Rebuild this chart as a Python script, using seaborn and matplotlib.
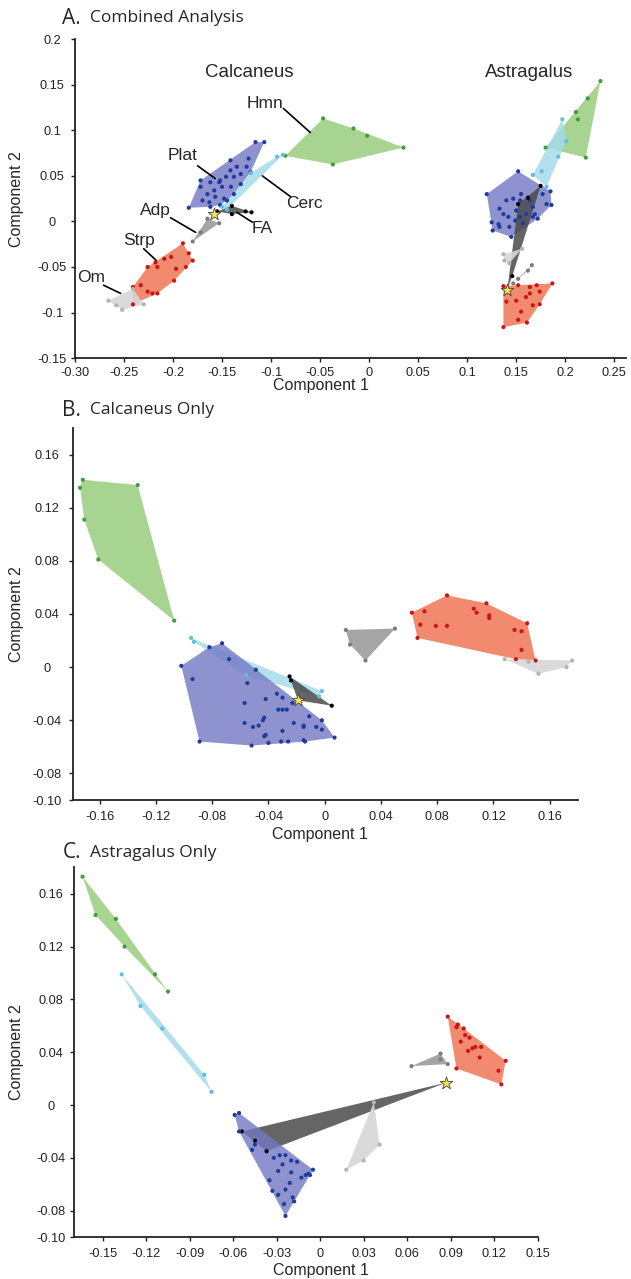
import numpy as np
import pandas as pd
import matplotlib
matplotlib.use("Agg")
import matplotlib.pyplot as plt
import seaborn as sns

# ========== DATA ==========
# Panel A - Combined analysis, calcaneus cluster
a_calc_hmn = [(-0.0855, 0.072), (-0.047, 0.113), (-0.016, 0.102), (-0.002, 0.094), (0.035, 0.081), (-0.037, 0.0625)]
a_calc_plat = [(-0.184, 0.015), (-0.116, 0.087), (-0.107, 0.087), (-0.123, 0.069), (-0.1415, 0.067), (-0.1415, 0.056),
               (-0.152, 0.045), (-0.162, 0.043), (-0.172, 0.038), (-0.165, 0.030), (-0.158, 0.034), (-0.150, 0.038),
               (-0.138, 0.049), (-0.131, 0.052), (-0.121, 0.054), (-0.170, 0.023), (-0.163, 0.021), (-0.157, 0.027),
               (-0.148, 0.025), (-0.138, 0.030), (-0.141, 0.038), (-0.162, 0.016), (-0.152, 0.018), (-0.145, 0.023),
               (-0.131, 0.041), (-0.153, 0.043), (-0.146, 0.049), (-0.135, 0.060), (-0.125, 0.060), (-0.172, 0.045)]
a_calc_cerc = [(-0.094, 0.071), (-0.088, 0.073), (-0.121, 0.053), (-0.150, 0.016), (-0.145, 0.013)]
a_calc_fa = [(-0.155, 0.011), (-0.140, 0.017), (-0.126, 0.011), (-0.120, 0.010), (-0.140, 0.008)]
a_calc_adp = [(-0.165, 0.003), (-0.153, -0.002), (-0.180, -0.022), (-0.172, -0.012)]
a_calc_strp = [(-0.190, -0.024), (-0.184, -0.035), (-0.180, -0.043), (-0.187, -0.050), (-0.197, -0.052),
               (-0.202, -0.039), (-0.209, -0.041), (-0.218, -0.045), (-0.226, -0.050), (-0.216, -0.050),
               (-0.199, -0.065), (-0.216, -0.079), (-0.221, -0.079), (-0.226, -0.077), (-0.233, -0.070),
               (-0.241, -0.091), (-0.241, -0.072)]
a_calc_om = [(-0.266, -0.087), (-0.241, -0.074), (-0.230, -0.091), (-0.252, -0.097), (-0.258, -0.092)]
a_calc_star = (-0.158, 0.008)

# Panel A - Combined analysis, astragalus cluster
a_ast_hmn = [(0.236, 0.154), (0.223, 0.135), (0.211, 0.120), (0.213, 0.112), (0.180, 0.081), (0.221, 0.070)]
a_ast_cerc = [(0.197, 0.112), (0.201, 0.088), (0.193, 0.071), (0.167, 0.051), (0.181, 0.038), (0.176, 0.055)]
a_ast_plat = [(0.120, 0.030), (0.152, 0.055), (0.185, 0.033), (0.186, 0.018), (0.172, 0.003), (0.145, -0.017),
              (0.126, -0.010), (0.125, -0.001), (0.133, 0.014), (0.137, 0.008), (0.142, 0.005), (0.150, 0.012),
              (0.154, 0.023), (0.155, 0.030), (0.164, 0.023), (0.167, 0.016), (0.160, 0.008), (0.149, 0.001),
              (0.154, 0.005), (0.133, -0.006), (0.132, -0.003), (0.140, 0.023), (0.147, 0.025), (0.169, 0.008),
              (0.177, 0.030), (0.181, 0.019), (0.157, -0.002), (0.143, -0.006), (0.167, 0.005)]
a_ast_fa = [(0.175, 0.039), (0.162, 0.026), (0.152, 0.019), (0.141, -0.075), (0.146, -0.060)]
a_ast_om = [(0.137, -0.036), (0.156, -0.030), (0.143, -0.046), (0.138, -0.043)]
a_ast_adp = [(0.166, -0.048), (0.152, -0.063), (0.147, -0.068), (0.162, -0.054)]
a_ast_strp = [(0.137, -0.071), (0.187, -0.068), (0.161, -0.111), (0.137, -0.116), (0.152, -0.070), (0.164, -0.072),
              (0.171, -0.070), (0.174, -0.077), (0.150, -0.087), (0.140, -0.088), (0.160, -0.083), (0.167, -0.092),
              (0.174, -0.091), (0.152, -0.108), (0.155, -0.099), (0.164, -0.079)]
a_ast_star = (0.141, -0.075)

# Panel B - Calcaneus only
b_hmn = [(-0.172, 0.141), (-0.174, 0.135), (-0.171, 0.111), (-0.161, 0.081), (-0.133, 0.137), (-0.107, 0.035)]
b_cerc = [(-0.095, 0.022), (-0.093, 0.019), (-0.056, -0.006), (-0.002, -0.018), (-0.004, -0.022)]
b_plat = [(-0.102, 0.001), (-0.073, 0.018), (-0.082, 0.015), (-0.068, 0.006), (-0.049, -0.002), (-0.094, -0.009),
          (-0.089, -0.056), (-0.052, -0.059), (-0.055, -0.012), (-0.057, -0.027), (-0.057, -0.042), (-0.051, -0.045),
          (-0.047, -0.044), (-0.044, -0.040), (-0.043, -0.038), (-0.042, -0.024), (-0.034, -0.020), (-0.030, -0.023),
          (-0.033, -0.032), (-0.030, -0.032), (-0.027, -0.032), (-0.030, -0.048), (-0.042, -0.051), (-0.043, -0.052),
          (-0.040, -0.057), (-0.031, -0.056), (-0.026, -0.056), (-0.022, -0.042), (-0.015, -0.044), (-0.014, -0.056),
          (-0.011, -0.037), (-0.006, -0.045), (-0.023, -0.027), (-0.015, -0.045), (-0.002, -0.047), (-0.015, -0.055),
          (0.007, -0.053), (-0.002, -0.040)]
b_fa = [(-0.025, -0.007), (-0.024, -0.010), (0.005, -0.029), (-0.019, -0.025)]
b_adp = [(0.015, 0.028), (0.050, 0.029), (0.029, 0.005), (0.018, 0.017)]
b_strp = [(0.062, 0.041), (0.087, 0.054), (0.115, 0.048), (0.144, 0.033), (0.150, 0.005), (0.066, 0.022),
          (0.071, 0.042), (0.068, 0.032), (0.079, 0.031), (0.087, 0.031), (0.106, 0.044), (0.108, 0.041),
          (0.117, 0.039), (0.117, 0.037), (0.135, 0.028), (0.140, 0.027), (0.140, 0.013), (0.136, 0.006)]
b_om = [(0.128, 0.006), (0.176, 0.005), (0.172, 0.000), (0.152, -0.005), (0.145, 0.004)]
b_star = (-0.019, -0.025)

# Panel C - Astragalus only
c_hmn = [(-0.164, 0.173), (-0.155, 0.144), (-0.141, 0.141), (-0.135, 0.120), (-0.114, 0.099), (-0.105, 0.086)]
c_cerc = [(-0.137, 0.099), (-0.124, 0.075), (-0.109, 0.058), (-0.080, 0.023), (-0.075, 0.010)]
c_plat = [(-0.059, -0.0075), (-0.056, -0.006), (-0.005, -0.049), (-0.024, -0.084), (-0.056, -0.020), (-0.045, -0.030),
          (-0.047, -0.034), (-0.032, -0.040), (-0.028, -0.038), (-0.024, -0.038), (-0.020, -0.042), (-0.016, -0.043),
          (-0.026, -0.045), (-0.029, -0.050), (-0.020, -0.051), (-0.035, -0.057), (-0.013, -0.055), (-0.010, -0.053),
          (-0.008, -0.052), (-0.033, -0.065), (-0.029, -0.068), (-0.024, -0.064), (-0.019, -0.070), (-0.025, -0.075),
          (-0.018, -0.073), (-0.021, -0.059), (-0.007, -0.053)]
c_fa = [(-0.054, -0.020), (-0.037, -0.035), (-0.045, -0.027), (0.087, 0.017)]
c_om = [(0.037, 0.002), (0.041, -0.030), (0.030, -0.042), (0.018, -0.049)]
c_adp = [(0.063, 0.0295), (0.083, 0.039), (0.083, 0.0345), (0.088, 0.031)]
c_strp = [(0.088, 0.067), (0.128, 0.0335), (0.125, 0.0156), (0.094, 0.0277), (0.094, 0.059), (0.095, 0.061),
          (0.099, 0.058), (0.100, 0.053), (0.103, 0.051), (0.097, 0.048), (0.102, 0.041), (0.105, 0.043),
          (0.107, 0.044), (0.111, 0.044), (0.110, 0.036), (0.123, 0.026)]
c_star = (0.087, 0.017)

# ticks
a_xticks = [-0.30, -0.25, -0.2, -0.15, -0.1, -0.05, 0, 0.05, 0.1, 0.15, 0.2, 0.25]
a_xlabels = ["-0.30", "-0.25", "-0.2", "-0.15", "-0.1", "-0.05", "0", "0.05", "0.1", "0.15", "0.2", "0.25"]
a_yticks = [-0.15, -0.1, -0.05, 0, 0.05, 0.1, 0.15, 0.2]
a_ylabels = ["-0.15", "-0.1", "-0.05", "0", "0.05", "0.1", "0.15", "0.2"]
b_xticks = [-0.16, -0.12, -0.08, -0.04, 0, 0.04, 0.08, 0.12, 0.16]
b_xlabels = ["-0.16", "-0.12", "-0.08", "-0.04", "0", "0.04", "0.08", "0.12", "0.16"]
bc_yticks = [-0.10, -0.08, -0.04, 0, 0.04, 0.08, 0.12, 0.16]
bc_ylabels = ["-0.10", "-0.08", "-0.04", "0", "0.04", "0.08", "0.12", "0.16"]
c_xticks = [-0.15, -0.12, -0.09, -0.06, -0.03, 0, 0.03, 0.06, 0.09, 0.12, 0.15]
c_xlabels = ["-0.15", "-0.12", "-0.09", "-0.06", "-0.03", "0", "0.03", "0.06", "0.09", "0.12", "0.15"]

# ========== STYLE ==========
fill_col = {"Hmn": "#a3d28c", "Cerc": "#a5dbea", "Plat": "#7278c4", "FA": "#4a4a4a",
            "Adp": "#9b9b9b", "Strp": "#f07d5e", "Om": "#d6d6d6"}
pt_col = {"Hmn": "#3e9e3a", "Cerc": "#62bedb", "Plat": "#1f3c9c", "FA": "#000000",
          "Adp": "#7d7d7d", "Strp": "#cc1515", "Om": "#b4b4b4"}
fill_alpha = {"Hmn": 0.95, "Cerc": 0.85, "Plat": 0.8, "FA": 0.85, "Adp": 0.9, "Strp": 0.9, "Om": 0.9}

sns.set_style("ticks")
plt.rcParams['font.family'] = ['Liberation Sans', 'DejaVu Sans']


def hull(pts):
    pts = sorted(set(pts))
    if len(pts) < 3:
        return pts

    def cross(o, a, b):
        return (a[0] - o[0]) * (b[1] - o[1]) - (a[1] - o[1]) * (b[0] - o[0])
    lower, upper = [], []
    for p in pts:
        while len(lower) >= 2 and cross(lower[-2], lower[-1], p) <= 0:
            lower.pop()
        lower.append(p)
    for p in reversed(pts):
        while len(upper) >= 2 and cross(upper[-2], upper[-1], p) <= 0:
            upper.pop()
        upper.append(p)
    return lower[:-1] + upper[:-1]


def draw_groups(ax, groups, star):
    rows = []
    for name, pts in groups:
        h = hull(pts)
        ax.fill([p[0] for p in h], [p[1] for p in h], color=fill_col[name],
                alpha=fill_alpha[name], lw=0, zorder=1)
        for x, y in pts:
            rows.append({"x": x, "y": y, "group": name})
    df = pd.DataFrame(rows)
    sns.scatterplot(data=df, x="x", y="y", hue="group", palette=pt_col, s=9,
                    linewidth=0, legend=False, ax=ax, zorder=3)
    sns.scatterplot(x=[star[0]], y=[star[1]], marker="*", s=90, color="#ffe54d",
                    edgecolor="#444", linewidth=0.6, ax=ax, zorder=4)


def style_axis(ax, xlim, ylim, xt, xl, yt, yl, xlab_pos, ylab_x, xpad, ypad):
    ax.set_xlim(*xlim)
    ax.set_ylim(*ylim)
    ax.set_xticks(xt)
    ax.set_xticklabels(xl)
    ax.set_yticks(yt)
    ax.set_yticklabels(yl)
    sns.despine(ax=ax)
    for s in ["left", "bottom"]:
        ax.spines[s].set_linewidth(1.3)
        ax.spines[s].set_color("#222")
    ax.tick_params(direction="out", length=3, width=1, labelsize=9.2, colors="#222")
    ax.tick_params(axis="y", pad=ypad)
    ax.tick_params(axis="x", pad=xpad)
    for lab in ax.get_yticklabels():
        lab.set_horizontalalignment("center")
    ax.set_xlabel("Component 1", fontsize=11.5)
    ax.set_ylabel("Component 2", fontsize=11.5)
    ax.xaxis.set_label_coords(xlab_pos[0], xlab_pos[1])
    ax.yaxis.set_label_coords(ylab_x, 0.5)


fig = plt.figure(figsize=(6.31, 12.79), dpi=100)
axA = fig.add_axes([0.119, 0.720, 0.873, 0.2494])
axB = fig.add_axes([0.1157, 0.3745, 0.800, 0.2909])
axC = fig.add_axes([0.117, 0.0328, 0.735, 0.289])

# ----- A -----
draw_groups(axA, [("Hmn", a_calc_hmn), ("Plat", a_calc_plat), ("Cerc", a_calc_cerc), ("FA", a_calc_fa),
                  ("Adp", a_calc_adp), ("Strp", a_calc_strp), ("Om", a_calc_om)], a_calc_star)
draw_groups(axA, [("Hmn", a_ast_hmn), ("Cerc", a_ast_cerc), ("Plat", a_ast_plat), ("FA", a_ast_fa),
                  ("Om", a_ast_om), ("Adp", a_ast_adp), ("Strp", a_ast_strp)], a_ast_star)
style_axis(axA, (-0.30, 0.262), (-0.15, 0.2), a_xticks, a_xlabels, a_yticks, a_ylabels,
           (0.446, -0.062), -0.093, 3.5, 13.5)
axA.text(-0.122, 0.163, "Calcaneus", fontsize=13.5, ha="center", va="center")
axA.text(0.163, 0.163, "Astragalus", fontsize=13.5, ha="center", va="center")
labels_a = [("Hmn", (-0.106, 0.129), (-0.0875, 0.124), (-0.060, 0.0975)),
            ("Plat", (-0.190, 0.072), (-0.175, 0.061), (-0.157, 0.047)),
            ("Cerc", (-0.066, 0.020), (-0.080, 0.027), (-0.109, 0.050)),
            ("Adp", (-0.218, 0.012), (-0.2026, 0.004), (-0.177, -0.012)),
            ("FA", (-0.109, -0.008), (-0.119, -0.001), (-0.135, 0.010)),
            ("Strp", (-0.235, -0.021), (-0.230, -0.030), (-0.217, -0.043)),
            ("Om", (-0.284, -0.061), (-0.271, -0.070), (-0.2535, -0.079))]
for txt, tpos, p0, p1 in labels_a:
    axA.text(tpos[0], tpos[1], txt, fontsize=12.5, ha="center", va="center")
    axA.plot([p0[0], p1[0]], [p0[1], p1[1]], color="black", lw=1.2)

# ----- B -----
draw_groups(axB, [("Hmn", b_hmn), ("Cerc", b_cerc), ("Plat", b_plat), ("FA", b_fa),
                  ("Adp", b_adp), ("Strp", b_strp), ("Om", b_om)], b_star)
style_axis(axB, (-0.179, 0.180), (-0.10, 0.18), b_xticks, b_xlabels, bc_yticks, bc_ylabels,
           (0.49, -0.072), -0.097, 5, 15.5)

# ----- C -----
draw_groups(axC, [("Hmn", c_hmn), ("Cerc", c_cerc), ("FA", c_fa), ("Plat", c_plat),
                  ("Om", c_om), ("Adp", c_adp), ("Strp", c_strp)], c_star)
style_axis(axC, (-0.170, 0.150), (-0.10, 0.18), c_xticks, c_xlabels, bc_yticks, bc_ylabels,
           (0.532, -0.070), -0.108, 5, 13.5)

# panel titles
for ypx, letter, title in [(18, "A.", "Combined Analysis"), (410, "B.", "Calcaneus Only"),
                           (853, "C.", "Astragalus Only")]:
    yf = 1 - ypx / 1279
    fig.text(0.099, yf, letter, fontsize=15, family="Open Sans", ha="left", va="center")
    fig.text(0.143, yf, title, fontsize=12.5, family="Open Sans", ha="left", va="center")

fig.savefig("out.png", dpi=100)
